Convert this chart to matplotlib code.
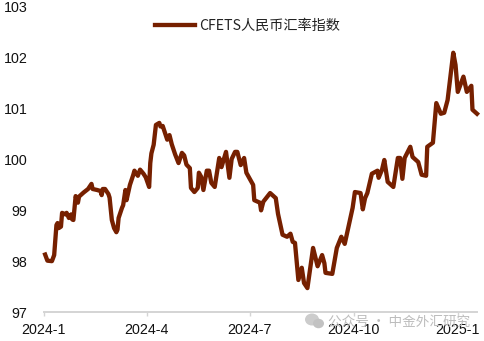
#!/usr/bin/env python3
"""CFETS RMB index, Jan 2024 to Jan 2025."""

import matplotlib
matplotlib.use('Agg')
import matplotlib.pyplot as plt
from matplotlib.patches import Ellipse

plt.rcParams['font.family'] = ['Liberation Sans', 'Noto Sans CJK SC', 'DejaVu Sans']

# days since 2024-01-01
days = [1, 3, 7, 9, 11, 12, 13, 15, 16, 19, 20, 22, 24, 25, 26, 28, 30, 31, 35, 39,
        42, 43, 47, 50, 51, 52, 54, 57, 58, 60, 62, 64, 65, 66, 69, 70, 72, 73, 76, 79,
        80, 83, 85, 88, 90, 93, 94, 95, 97, 99, 102, 103, 105, 109, 111, 113, 116, 119, 122, 124,
        126, 129, 130, 133, 136, 137, 139, 141, 144, 146, 148, 151, 155, 157, 161, 164, 166, 169, 171, 174,
        177, 179, 185, 186, 191, 192, 194, 200, 205, 207, 211, 215, 218, 220, 222, 225, 228, 230, 233, 238,
        242, 246, 248, 249, 255, 259, 263, 266, 273, 275, 280, 282, 284, 286, 290, 295, 296, 299, 301, 304,
        309, 313, 315, 317, 319, 324, 326, 331, 334, 338, 339, 344, 347, 351, 354, 357, 362, 364, 366, 371,
        374, 378, 379, 383]
values = [98.13, 98.01, 98.00, 98.12, 98.71, 98.75, 98.65, 98.68, 98.95, 98.92, 98.95, 98.85, 98.92, 98.82, 98.81, 99.28, 99.15, 99.27, 99.35, 99.42,
          99.52, 99.42, 99.40, 99.38, 99.30, 99.42, 99.42, 99.32, 99.25, 98.81, 98.65, 98.57, 98.62, 98.85, 99.05, 99.10, 99.40, 99.20, 99.50, 99.70,
          99.78, 99.68, 99.80, 99.72, 99.65, 99.46, 99.93, 100.12, 100.29, 100.68, 100.72, 100.65, 100.66, 100.39, 100.48, 100.30, 100.10, 99.93, 100.13, 100.08,
          99.90, 99.83, 99.44, 99.36, 99.44, 99.74, 99.66, 99.40, 99.78, 99.78, 99.54, 99.46, 100.03, 99.85, 100.15, 99.64, 100.01, 100.15, 100.15, 99.89,
          100.03, 99.74, 99.50, 99.20, 99.15, 99.00, 99.17, 99.34, 99.24, 98.93, 98.52, 98.48, 98.54, 98.38, 98.36, 97.63, 97.87, 97.57, 97.47, 98.26,
          97.90, 98.12, 97.96, 97.77, 97.75, 98.26, 98.48, 98.34, 99.05, 99.36, 99.34, 99.02, 99.24, 99.34, 99.72, 99.78, 99.64, 99.80, 99.99, 99.56,
          99.46, 100.03, 100.03, 99.62, 100.03, 100.25, 100.05, 99.95, 99.70, 99.68, 100.25, 100.33, 101.11, 100.90, 100.92, 101.17, 102.10, 101.86, 101.33, 101.63,
          101.33, 101.45, 100.98, 100.90]

tick_days = [0, 91, 182, 274, 366]
tick_labels = ['2024-1', '2024-4', '2024-7', '2024-10', '2025-1']
y_ticks = [97, 98, 99, 100, 101, 102, 103]
series_name = 'CFETS人民币汇率指数'
watermark = '公众号 · 中金外汇研究'

W, H = 485, 341
LINE_COLOR = '#762000'

fig = plt.figure(figsize=(W / 100, H / 100), dpi=100)
ax = fig.add_axes([44 / W, 1 - 312 / H, (477 - 44) / W, (312 - 7) / H])
ax.patch.set_alpha(0)

# watermark goes first so the tick labels stay on top, wechat logo is two gray blobs
fig.add_artist(Ellipse((312 / W, 1 - 319.5 / H), 14 / W, 12 / H, color='#cccccc', lw=0))
fig.add_artist(Ellipse((318.5 / W, 1 - 323.5 / H), 11 / W, 9.5 / H, color='#c2c2c2', lw=0))
fig.text(328 / W, 1 - 322 / H, watermark, fontsize=9.8, color='#bdbdbd', va='center', ha='left',
         family=['Noto Sans CJK SC', 'DejaVu Sans'], zorder=0.5)

ax.plot(days, values, color=LINE_COLOR, linewidth=3.1, solid_joinstyle='round', clip_on=False,
        label=series_name)

ax.set_xlim(0, 383)
ax.set_ylim(97, 103)
ax.set_xticks(tick_days)
ax.set_xticklabels(tick_labels, fontsize=10.3, color='#111111')
ax.set_yticks(y_ticks)
ax.tick_params(axis='x', length=3, width=1, color='#d4d4d4', pad=5)
ax.tick_params(axis='y', length=0, pad=12, labelsize=10.3, labelcolor='#111111')
for side in ['top', 'right', 'left']:
    ax.spines[side].set_visible(False)
ax.spines['bottom'].set_color('#d4d4d4')
ax.spines['bottom'].set_linewidth(1.4)

# legend sits inside the plot, top middle
leg = ax.legend(loc='upper left', bbox_to_anchor=(155 / W, 1 - 19 / H), bbox_transform=fig.transFigure,
                frameon=False, fontsize=10.2, handlelength=2.8, handletextpad=0.3,
                borderpad=0, borderaxespad=0)
for txt in leg.get_texts():
    txt.set_family(['Noto Sans CJK SC', 'DejaVu Sans'])
    txt.set_color('#222222')

fig.savefig('out.png', dpi=100)
